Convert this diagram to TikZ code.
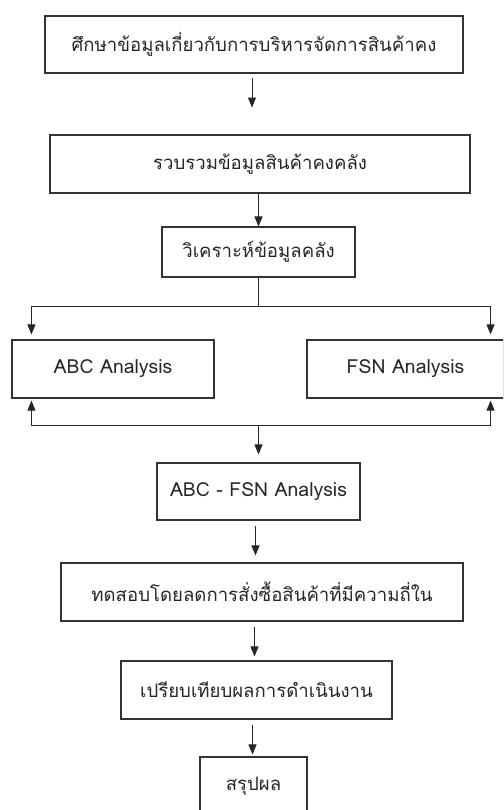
\documentclass[tikz,border=0pt]{standalone}
\usepackage{fontspec}
\newfontfamily\thaifont[Script=Thai]{Loma}
\usetikzlibrary{arrows.meta,calc,positioning}
\tikzset{box/.style={draw=black!80, rectangle, line width=1.1pt, inner sep=0pt, minimum height=58pt, text=black!85, font=\thaifont\fontsize{18.6}{22}\selectfont},
  latin/.style={font=\thaifont\fontsize{19.4}{23}\selectfont}}
\tikzstyle{arr}=[draw=black!85, line width=0.9pt, -{Triangle[length=10pt,width=8pt]}]
\tikzstyle{gap}=[shorten <=5pt, shorten >=7pt]

\begin{document}
\begin{tikzpicture}[x=1pt, y=-1pt]
\path[clip] (0,0) rectangle (503,810);
\node[box, minimum width=418pt, minimum height=57pt] (S1) at (254,44.5) {ศึกษาข้อมูลเกี่ยวกับการบริหารจัดการสินค้าคง};
\node[box, minimum width=420pt] (S2) at (260,164) {รวบรวมข้อมูลสินค้าคงคลัง};
\node[box, minimum width=193pt, minimum height=50pt] (S3) at (258.5,252) {วิเคราะห์ข้อมูลคลัง};
\node[box, latin, minimum width=202pt] (ABC) at (113,369) {ABC Analysis};
\node[box, latin, minimum width=197pt] (FSN) at (405.5,369) {FSN Analysis};
\node[box, latin, minimum width=203pt, minimum height=57pt] (S4) at (258.5,491.5) {ABC - FSN Analysis};
\node[box, minimum width=402pt] (S5) at (262,592) {ทดสอบโดยลดการสั่งซื้อสินค้าที่มีความถี่ใน};
\node[box, minimum width=271pt] (S6) at (256.5,690) {เปรียบเทียบผลการดำเนินงาน};
\node[box, minimum width=107pt] (S7) at (253.5,786) {สรุปผล};
\coordinate (split) at (258.5,306);
\coordinate (merge) at (258.5,425);
% arrows
\draw[arr] ([xshift=-2pt, yshift=-4pt]S1.south) -- ++(0,30);
\draw[arr] (S2.south -| S3.north) -- (S3.north);
\draw[line width=0.9pt, black!85] (S3.south) -- (split);
\draw[arr, shorten >=5pt] (split) -| ([xshift=20pt]ABC.north west);
\draw[arr, shorten >=5pt] (split) -| ([xshift=-14pt]FSN.north east);
\draw[arr, shorten >=2pt] (merge) -| ([xshift=20pt]ABC.south west);
\draw[arr, shorten >=2pt] (merge) -| ([xshift=-14pt]FSN.south east);
\draw[arr, shorten >=8pt] (merge) -- (merge |- S4.north);
\draw[arr, gap] ([xshift=-3pt]S4.south) -- ([xshift=-3pt]S4.south |- S5.north);
\draw[arr, gap, shorten >=4pt] ([xshift=-2pt]S6.north |- S5.south) -- ([xshift=-2pt]S6.north);
\draw[arr, gap, shorten >=2pt] ([xshift=-1pt]S7.north |- S6.south) -- ([xshift=-1pt]S7.north);
\end{tikzpicture}
\end{document}
